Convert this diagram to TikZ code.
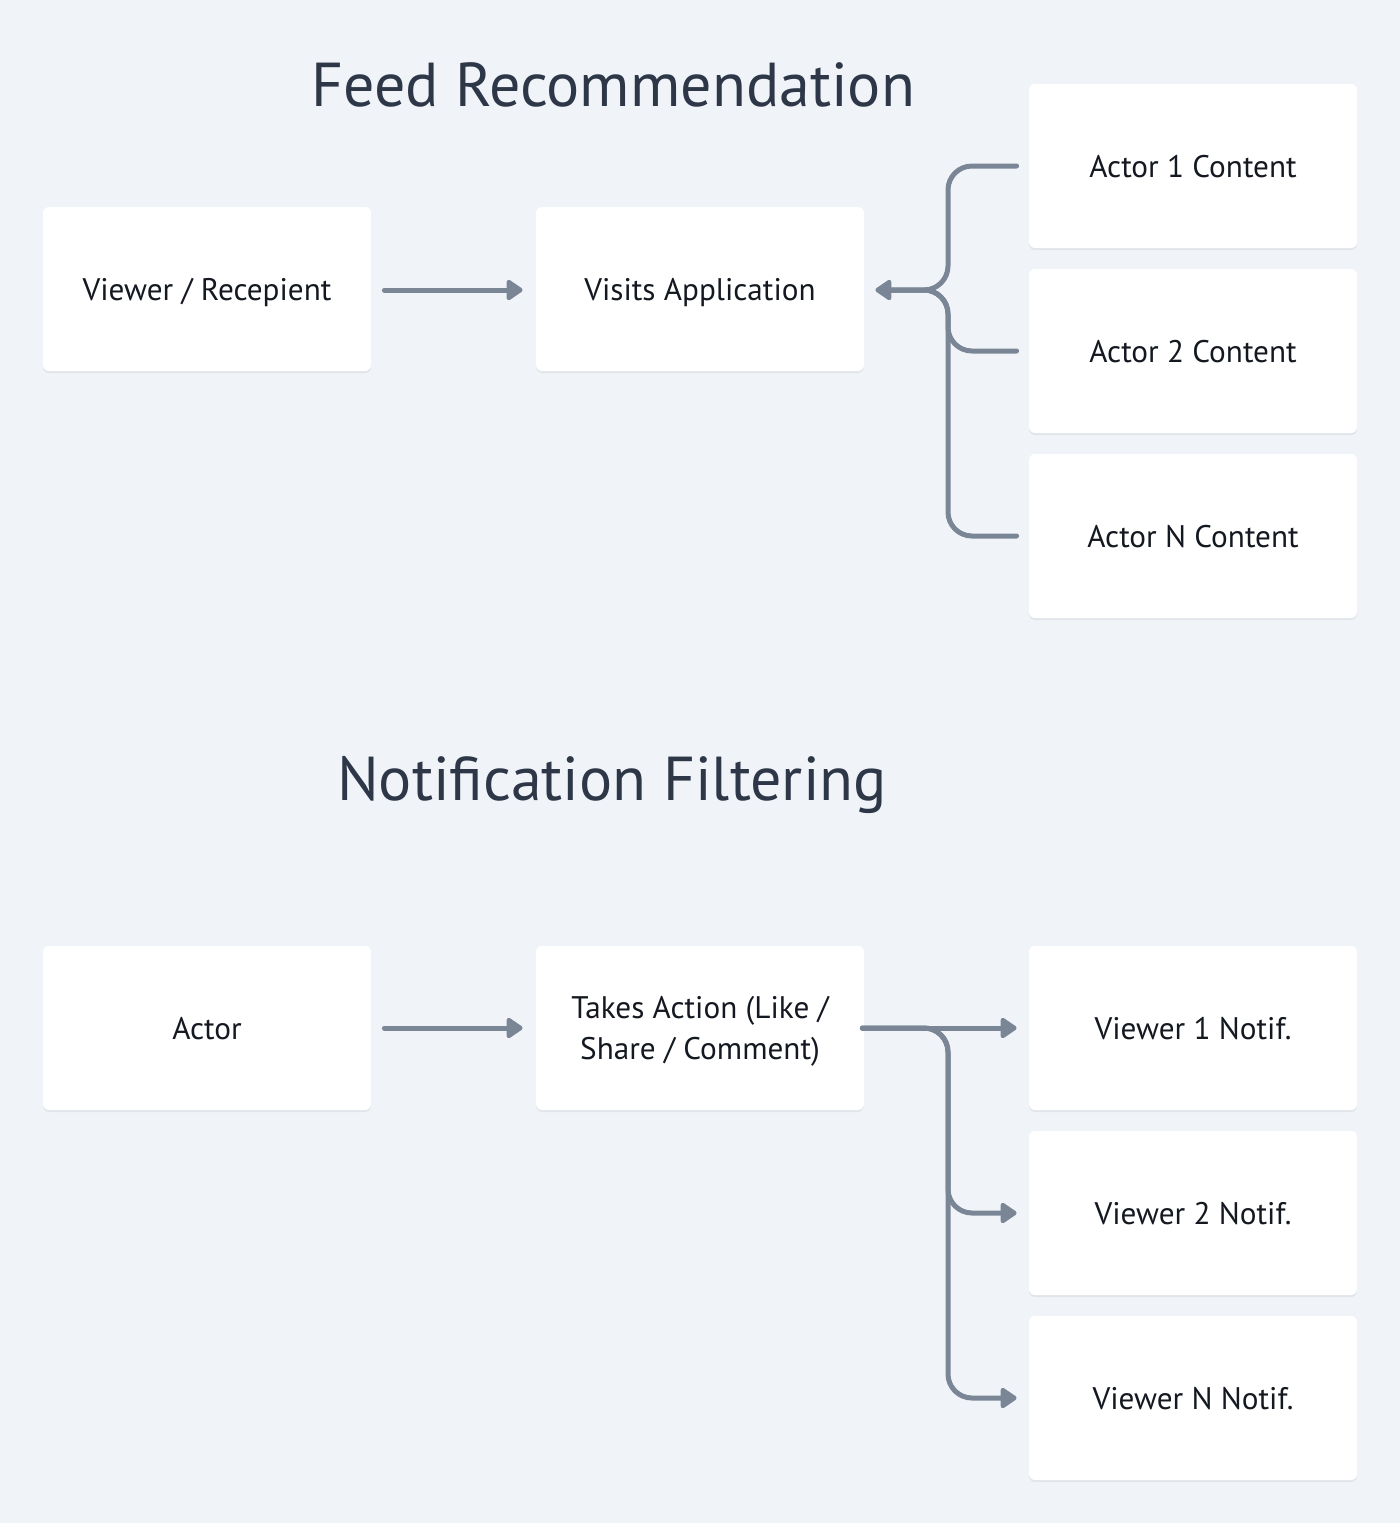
\documentclass[tikz,border=0pt]{standalone}
\usepackage{fontspec}
\setmainfont{PT Sans}
\usetikzlibrary{arrows.meta,shadows}
\definecolor{bgcol}{HTML}{F0F4F8}
\definecolor{linecol}{HTML}{7A8696}
\definecolor{txtcol}{HTML}{141820}
\definecolor{titlecol}{HTML}{2D3748}
\tikzset{
  card/.style={fill=white, rounded corners=3pt, minimum width=164pt, minimum height=82pt,
    text=txtcol, font=\fontsize{15.6}{18.5}\selectfont, align=center, inner sep=0pt,
    text height=11pt, text depth=0pt,
    drop shadow={shadow xshift=0pt, shadow yshift=-1pt, opacity=0.06, fill=black}},
  heading/.style={text=titlecol, font=\fontsize{31}{37}\selectfont},
  conn/.style={draw=linecol, line width=2.5pt, line cap=round, rounded corners=12pt,
    -{Triangle[length=9pt, width=11.5pt, round]}},
  link/.style={draw=linecol, line width=2.5pt, line cap=round, rounded corners=12pt}
}
\begin{document}
\begin{tikzpicture}[x=0.5pt, y=-0.5pt]
    \fill [bgcol] (0,0) rectangle (1400,1523);
    \useasboundingbox (0,0) rectangle (1400,1523);
    % feed recommendation
    \path node (feedtitle) at (613,85) [heading] {Feed Recommendation}
          node (viewer) at (207,289) [card] {Viewer / Recepient}
          node (visits) at (700,289) [card] {Visits Application}
          node (actorone) at (1193,166) [card] {Actor 1 Content}
          node (actortwo) at (1193,351) [card] {Actor 2 Content}
          node (actorn) at (1193,536) [card] {Actor N Content};
    \coordinate (feedfork) at (948,290);
    \draw [conn, shorten <=6.5pt, shorten >=6.5pt] (viewer.east |- feedfork) -- (visits.west |- feedfork);
    \draw [conn, shorten >=5.5pt] ([xshift=-6pt]actorn.west) -| (feedfork) -- (visits.east |- feedfork);
    \draw [link] ([xshift=-6pt]actorone.west) -| (feedfork) -- ([xshift=8pt]visits.east |- feedfork);
    \draw [link] ([xshift=-6pt]actortwo.west) -| (feedfork) -- ([xshift=8pt]visits.east |- feedfork);
    % notification filtering
    \path node (notiftitle) at (612,785) [heading] {Notification Filtering}
          node (actor) at (207,1028) [card] {Actor}
          node (action) at (700,1028) [card, font=\fontsize{15.6}{20.5}\selectfont, text height=31.5pt] {Takes Action (Like /\\Share / Comment)}
          node (viewerone) at (1193,1028) [card] {Viewer 1 Notif.}
          node (viewertwo) at (1193,1213) [card] {Viewer 2 Notif.}
          node (viewern) at (1193,1398) [card] {Viewer N Notif.};
    \coordinate (notiffork) at (948,1028);
    \draw [conn, shorten <=6.5pt, shorten >=6.5pt] (actor) -- (action);
    \draw [conn, shorten >=6pt] ([xshift=-1pt]action.east) -- (viewerone);
    \draw [conn, shorten >=6pt] ([xshift=-1pt]action.east) -| (notiffork |- viewertwo) -- (viewertwo);
    \draw [conn, shorten >=6pt] ([xshift=-1pt]action.east) -| (notiffork |- viewern) -- (viewern);
\end{tikzpicture}
\end{document}
